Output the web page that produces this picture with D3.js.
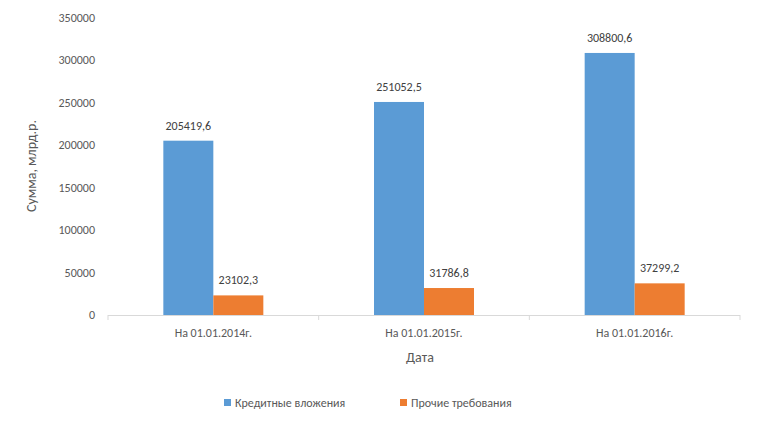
<!DOCTYPE html>
<html><head><meta charset="utf-8">
<script src="https://cdn.jsdelivr.net/npm/d3@7"></script>
<style>body{margin:0;background:#fff}text{font-family:Calibri,"Carlito","Liberation Sans",sans-serif}</style>
</head><body>
<script>
let categories = ["На 01.01.2014г.", "На 01.01.2015г.", "На 01.01.2016г."]
let seriesNames = ["Кредитные вложения", "Прочие требования"]
let credit = [205419.6, 251052.5, 308800.6]
let other = [23102.3, 31786.8, 37299.2]
let yTicks = [0, 50000, 100000, 150000, 200000, 250000, 300000, 350000]
let colors = ["#5B9BD5", "#ED7D31"]

let w = 757, h = 427
let padLeft = 108, padRight = 740, padTop = 18, padBottom = 315

let svg = d3.select("body").append("svg").attr("width", w).attr("height", h)

let xScale = d3.scaleBand().domain(categories).range([padLeft, padRight])
let yScale = d3.scaleLinear().domain([0, 350000]).range([padBottom, padTop])
let barW = 50

let fmt = v => v.toFixed(1).replace(".", ",")

// y axis labels
svg.selectAll(".ytick").data(yTicks).enter().append("text")
  .attr("x", padLeft - 13).attr("y", d => yScale(d) + 4)
  .attr("text-anchor", "end").attr("font-size", 12).attr("fill", "#595959")
  .text(d => d)

// x axis line
svg.append("line").attr("x1", padLeft).attr("x2", padRight)
  .attr("y1", padBottom + 0.5).attr("y2", padBottom + 0.5).attr("stroke", "#d9d9d9")
svg.selectAll(".xtickmark").data(d3.range(categories.length + 1)).enter().append("line")
  .attr("x1", i => padLeft + i * xScale.bandwidth()).attr("x2", i => padLeft + i * xScale.bandwidth())
  .attr("y1", padBottom).attr("y2", padBottom + 5).attr("stroke", "#d9d9d9")

let series = [credit, other]
series.forEach((vals, s) => {
  let g = svg.append("g")
  g.selectAll("rect").data(vals).enter().append("rect")
    .attr("x", (d, i) => xScale(categories[i]) + xScale.bandwidth() / 2 - barW + s * barW)
    .attr("width", barW)
    .attr("y", d => yScale(d)).attr("height", d => padBottom - yScale(d))
    .attr("fill", colors[s])
  g.selectAll("text").data(vals).enter().append("text")
    .attr("x", (d, i) => xScale(categories[i]) + xScale.bandwidth() / 2 - barW / 2 + s * barW)
    .attr("y", d => yScale(d) - 11)
    .attr("text-anchor", "middle").attr("font-size", 12).attr("fill", "#404040")
    .text(d => fmt(d))
})

svg.selectAll(".xlab").data(categories).enter().append("text")
  .attr("x", d => xScale(d) + xScale.bandwidth() / 2).attr("y", 337)
  .attr("text-anchor", "middle").attr("font-size", 12).attr("fill", "#595959")
  .text(d => d)

svg.append("text").attr("x", (padLeft + padRight) / 2 - 4).attr("y", 362)
  .attr("text-anchor", "middle").attr("font-size", 14).attr("fill", "#595959").text("Дата")

svg.append("text").attr("transform", "translate(36,166) rotate(-90)")
  .attr("text-anchor", "middle").attr("font-size", 14).attr("fill", "#595959").text("Сумма, млрд.р.")

let lx = [224, 400]
seriesNames.forEach((n, i) => {
  svg.append("rect").attr("x", lx[i]).attr("y", 399).attr("width", 7).attr("height", 7).attr("fill", colors[i])
  svg.append("text").attr("x", lx[i] + 11).attr("y", 407).attr("font-size", 12).attr("fill", "#595959").text(n)
})
</script>
</body></html>
